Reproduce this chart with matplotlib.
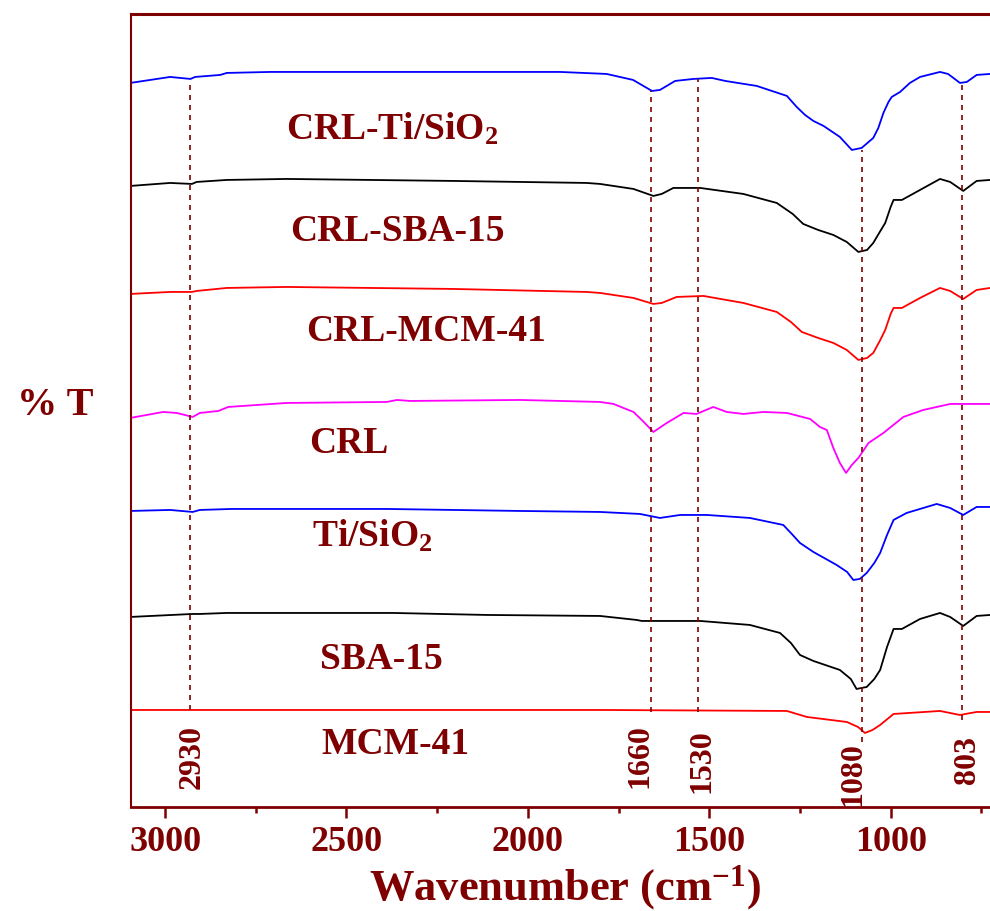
import matplotlib.pyplot as plt
import matplotlib as mpl

mpl.rcParams['font.family'] = ['Liberation Serif', 'DejaVu Serif']
mpl.rcParams['font.weight'] = 'bold'
mpl.rcParams['mathtext.fontset'] = 'custom'
mpl.rcParams['mathtext.rm'] = 'Liberation Serif:bold'
mpl.rcParams['mathtext.bf'] = 'Liberation Serif:bold'
mpl.rcParams['mathtext.it'] = 'Liberation Serif:bold'

dark_red = '#7f0000'

# FTIR spectra, stacked (transmittance in arbitrary offset units)
crl_ti_wn = [3096, 2986, 2930, 2917, 2848, 2830, 2711, 1911, 1783, 1710, 1658, 1636, 1594,
             1544, 1493, 1456, 1369, 1286, 1259, 1236, 1213, 1185, 1140, 1107, 1080, 1048,
             1034, 1020, 1006, 997, 974, 947, 919, 864, 842, 827, 809, 790, 763, 726]
crl_ti_t = [724, 730, 728, 730, 732, 734, 735, 735, 733, 727, 716, 717, 726,
            728, 729, 726, 721, 711, 700, 692, 686, 681, 670, 657, 659, 669,
            679, 694, 705, 710, 715, 724, 730, 735, 733, 729, 724, 725, 732, 733]

crl_sba_wn = [3096, 2986, 2926, 2913, 2830, 2665, 2205, 1838, 1801, 1709, 1654, 1631, 1599,
              1525, 1406, 1314, 1270, 1241, 1200, 1158, 1121, 1089, 1065, 1048, 1030, 1015,
              1000, 992, 969, 919, 864, 836, 800, 763, 726]
crl_sba_t = [621, 624, 623, 625, 627, 628, 626, 624, 623, 618, 611, 613, 619,
             619, 613, 604, 593, 583, 577, 572, 565, 555, 557, 564, 575, 584,
             600, 607, 607, 617, 628, 625, 616, 626, 627]

crl_mcm_wn = [3096, 2986, 2926, 2913, 2830, 2665, 2205, 1838, 1801, 1709, 1654, 1631, 1590,
              1516, 1406, 1314, 1275, 1245, 1200, 1158, 1121, 1089, 1065, 1048, 1030, 1015,
              1000, 992, 969, 919, 864, 836, 800, 763, 726]
crl_mcm_t = [513, 515, 515, 516, 519, 520, 518, 515, 514, 509, 503, 504, 510,
             511, 504, 495, 485, 475, 469, 464, 457, 447, 449, 454, 466, 477,
             493, 499, 499, 509, 519, 516, 508, 517, 519]

crl_wn = [3096, 3005, 2968, 2924, 2904, 2853, 2826, 2665, 2389, 2361, 2325, 2022, 1801,
          1764, 1709, 1686, 1654, 1617, 1571, 1535, 1489, 1452, 1406, 1351, 1286, 1222,
          1195, 1176, 1158, 1140, 1123, 1107, 1089, 1061, 1020, 965, 910, 836, 790, 726]
crl_t = [389, 395, 394, 390, 394, 396, 400, 404, 405, 407, 406, 407, 405,
         403, 395, 387, 375, 384, 394, 393, 400, 395, 393, 395, 394, 388,
         380, 377, 359, 344, 334, 342, 349, 364, 374, 390, 397, 403, 403, 403]

ti_wn = [3096, 2986, 2924, 2904, 2816, 2389, 2022, 1801, 1691, 1636, 1580, 1507, 1388,
         1296, 1270, 1250, 1213, 1149, 1120, 1103, 1085, 1066, 1045, 1029, 1010, 992,
         956, 873, 836, 800, 763, 726]
ti_t = [296, 297, 295, 297, 298, 298, 296, 295, 293, 289, 292, 292, 289,
        282, 272, 264, 255, 242, 235, 227, 228, 234, 244, 254, 272, 287,
        294, 303, 299, 292, 300, 300]

sba_wn = [3096, 2924, 2904, 2830, 2371, 2113, 1801, 1700, 1686, 1525, 1388, 1305, 1275,
          1250, 1213, 1140, 1110, 1094, 1066, 1045, 1029, 1010, 992, 969, 919, 864,
          836, 800, 763, 726]
sba_t = [190, 193, 193, 194, 194, 192, 191, 187, 186, 186, 182, 174, 164,
         152, 146, 137, 128, 118, 120, 128, 137, 160, 178, 178, 188, 194,
         190, 181, 191, 192]

mcm_wn = [3096, 2000, 1801, 1286, 1231, 1121, 1090, 1071, 1050, 1029, 992, 864, 809, 763, 726]
mcm_t = [97, 97, 97, 96, 90, 85, 80, 74, 77, 82, 93, 96, 92, 95, 95]

samples = ['CRL-Ti/SiO$_2$', 'CRL-SBA-15', 'CRL-MCM-41', 'CRL', 'Ti/SiO$_2$', 'SBA-15', 'MCM-41']
spectra = [(crl_ti_wn, crl_ti_t), (crl_sba_wn, crl_sba_t), (crl_mcm_wn, crl_mcm_t),
           (crl_wn, crl_t), (ti_wn, ti_t), (sba_wn, sba_t), (mcm_wn, mcm_t)]
colors = ['blue', 'black', 'red', 'magenta', 'blue', 'black', 'red']

# where each sample name sits (wavenumber, baseline)
name_x = [2374, 2359, 2280, 2495, 2429, 2403, 2364]
name_y = [667, 566, 466, 354, 260, 138, 53]

# marked bands
peaks = [2930, 1660, 1530, 1080, 803]
peak_top = [727, 716, 728, 657, 725]
peak_bottom = [97, 95, 95, 65, 87]
peak_label_x = [2926, 1691, 1521, 1104, 787]
peak_label_y = [50, 51, 46, 33, 47]

fig = plt.figure(figsize=(9.9, 9.11), dpi=100)
ax = fig.add_axes([0.1323, 0.1142, 0.8773, 0.8705])

for (wn, t), c in zip(spectra, colors):
    ax.plot(wn, t, color=c, linewidth=1.3)

for p, top, bot in zip(peaks, peak_top, peak_bottom):
    ax.plot([p, p], [bot, top], color=dark_red, linestyle=(0, (3, 3)), linewidth=1.2)

for p, lx, ly in zip(peaks, peak_label_x, peak_label_y):
    ax.text(lx, ly, str(p), rotation=90, ha='center', va='center',
            fontsize=23, color=dark_red, fontweight='bold')

for name, nx, ny in zip(samples, name_x, name_y):
    ax.text(nx, ny, name, ha='center', va='baseline', fontsize=27,
            color=dark_red, fontweight='bold')

ax.set_xlim(3094, 700)
ax.set_ylim(0, 793)
ax.set_xticks([3000, 2500, 2000, 1500, 1000])
ax.set_xticks([2750, 2250, 1750, 1250, 750], minor=True)
ax.set_yticks([])
ax.tick_params(axis='x', which='major', direction='out', length=8, width=1.8,
               color=dark_red, labelcolor=dark_red, labelsize=26, pad=6)
ax.tick_params(axis='x', which='minor', direction='out', length=4.5, width=1.8,
               color=dark_red)
for lbl in ax.get_xticklabels():
    lbl.set_fontweight('bold')

ax.spines['left'].set_color(dark_red)
ax.spines['left'].set_linewidth(1.5)
ax.spines['bottom'].set_color(dark_red)
ax.spines['bottom'].set_linewidth(2)
ax.spines['top'].set_color(dark_red)
ax.spines['top'].set_linewidth(2.2)
ax.spines['right'].set_visible(False)

fig.text(0.5707, 0.012, 'Wavenumber (cm$^{\\mathbf{-1}}$)', ha='center', va='baseline',
         fontsize=32, color=dark_red, fontweight='bold')
fig.text(0.0556, 0.555, '% T', ha='center', va='center', fontsize=29,
         color=dark_red, fontweight='bold')

fig.savefig('out.png', dpi=100)
